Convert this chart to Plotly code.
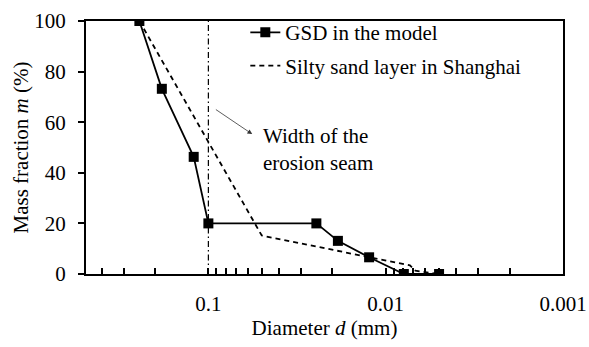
import math
import plotly.graph_objects as go

# GSD in the model
gsd_d = [0.245, 0.183, 0.121, 0.1, 0.0246, 0.0186, 0.0124, 0.0079, 0.005]
gsd_m = [100, 73.2, 46.3, 20, 20, 13.1, 6.6, 0, 0]

# Silty sand layer in Shanghai
silty_d = [0.245, 0.05, 0.0073, 0.0068, 0.005]
silty_m = [100, 15.2, 3.4, 1.3, 0]

# erosion seam width
seam_d = [0.1, 0.1]
seam_m = [0, 100]

x_tickvals = [0.1, 0.01, 0.001]
x_ticktext = ["0.1", "0.01", "0.001"]
x_minor = [k * 10.0 ** e for e in (-3, -2, -1) for k in range(2, 10) if k * 10.0 ** e < 0.5]
y_tickvals = [0, 20, 40, 60, 80, 100]

FONT = "Liberation Serif, Times New Roman, serif"
FS = 21

fig = go.Figure()
fig.add_trace(go.Scatter(
    x=seam_d, y=seam_m, mode="lines", showlegend=False,
    line=dict(color="black", width=1.2, dash="6px,3px,1.5px,3px"),
))
fig.add_trace(go.Scatter(
    x=gsd_d, y=gsd_m, mode="lines+markers", name="GSD in the model",
    legendgroup="a",
    line=dict(color="black", width=1.8),
    marker=dict(symbol="square", size=10, color="black"),
))
fig.add_trace(go.Scatter(
    x=silty_d, y=silty_m, mode="lines", name="Silty sand layer in Shanghai",
    legendgroup="b",
    line=dict(color="black", width=1.8, dash="5px,4px"),
))

fig.add_annotation(
    x=math.log10(0.0566), y=55.3, ax=math.log10(0.0925), ay=65.4,
    xref="x", yref="y", axref="x", ayref="y",
    text="", showarrow=True, arrowhead=2, arrowsize=1.2, arrowwidth=0.8,
    arrowcolor="#333333",
)
fig.add_annotation(
    x=math.log10(0.0503), y=49.4, xref="x", yref="y",
    text="Width of the<br>erosion seam", showarrow=False,
    xanchor="left", yanchor="middle", align="left",
    font=dict(family=FONT, size=FS, color="black"),
)

fig.update_layout(
    width=589, height=347,
    margin=dict(l=86, r=26, t=17, b=73),
    paper_bgcolor="white", plot_bgcolor="white",
    font=dict(family=FONT, size=FS, color="black"),
    legend=dict(
        x=0.334, y=1.035, xanchor="left", yanchor="top",
        bgcolor="rgba(0,0,0,0)", tracegroupgap=3,
        font=dict(family=FONT, size=FS, color="black"),
        itemwidth=30,
    ),
    xaxis=dict(
        type="log", range=[math.log10(0.49), -3], automargin=False,
        tickvals=x_tickvals, ticktext=x_ticktext,
        ticks="inside", ticklen=6, tickwidth=1.5, tickcolor="black",
        ticklabelstandoff=10,
        minor=dict(tickvals=x_minor, ticks="inside", ticklen=6, tickwidth=1.5,
                   tickcolor="black", showgrid=False),
        showline=True, linecolor="black", linewidth=2, mirror=True,
        showgrid=False, zeroline=False,
        title=dict(text="Diameter <i>d</i> (mm)", standoff=0,
                   font=dict(family=FONT, size=FS)),
        tickfont=dict(family=FONT, size=FS),
    ),
    yaxis=dict(
        range=[0, 100], tickvals=y_tickvals, automargin=False,
        ticks="outside", ticklen=6, tickwidth=1.5, tickcolor="black",
        ticklabelstandoff=8,
        showline=True, linecolor="black", linewidth=2, mirror=True,
        showgrid=False, zeroline=False,
        title=dict(text="Mass fraction <i>m</i> (%)", standoff=0,
                   font=dict(family=FONT, size=FS)),
        tickfont=dict(family=FONT, size=FS),
    ),
)

fig.write_html("out.html")
